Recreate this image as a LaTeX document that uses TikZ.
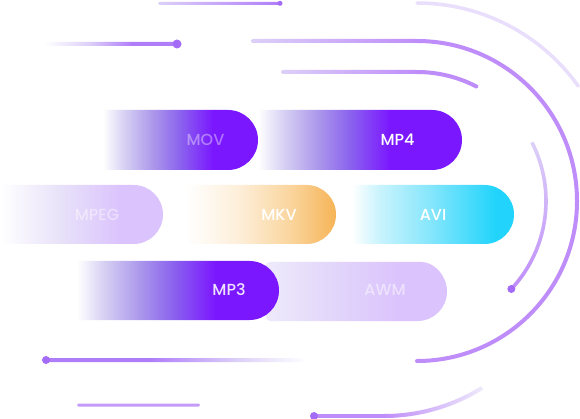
\documentclass[tikz,border=0pt]{standalone}
\usepackage{fontspec}
\setmainfont{Poppins}[UprightFont=* Medium]
\usepackage{xcolor}
\usepackage{tikz}

\definecolor{vio}{HTML}{7B17FF}
\definecolor{vioA}{HTML}{D6CFF3}
\definecolor{vioB}{HTML}{AC98EB}
\definecolor{vioC}{HTML}{8A62EE}
\definecolor{lilac}{HTML}{DBC3FD}
\definecolor{lilacpale}{HTML}{E8E2F9}
\definecolor{awmstart}{HTML}{EEEAFB}
\definecolor{awmmid}{HTML}{E2D6FA}
\definecolor{orng}{HTML}{F6B457}
\definecolor{orngA}{HTML}{FDEED8}
\definecolor{orngB}{HTML}{FAD59E}
\definecolor{cyan}{HTML}{22D4FB}
\definecolor{cyanA}{HTML}{C8F3FD}
\definecolor{cyanB}{HTML}{86E6FC}
\definecolor{lav}{HTML}{BF8DF9}
\definecolor{lavdeep}{HTML}{B07DF9}
\definecolor{lavpale}{HTML}{DCD0F8}
\definecolor{lavfaint}{HTML}{E9DEFC}
\definecolor{lavghost}{HTML}{EEEAFB}
\definecolor{lavline}{HTML}{C49BF8}
\definecolor{dotvio}{HTML}{A46CF6}

\pgfdeclarehorizontalshading{movfade}{100bp}{color(0bp)=(white); color(25bp)=(white); color(32bp)=(vioA); color(41bp)=(vioB); color(50bp)=(vioC); color(60.5bp)=(vio); color(100bp)=(vio)}
\pgfdeclarehorizontalshading{mpfourfade}{100bp}{color(0bp)=(white); color(25bp)=(white); color(31.5bp)=(vioA); color(39.6bp)=(vioB); color(47.6bp)=(vioC); color(57.4bp)=(vio); color(100bp)=(vio)}
\pgfdeclarehorizontalshading{mpthreefade}{100bp}{color(0bp)=(white); color(25bp)=(white); color(31.8bp)=(vioA); color(40.4bp)=(vioB); color(48.9bp)=(vioC); color(59.2bp)=(vio); color(100bp)=(vio)}
\pgfdeclarehorizontalshading{mpegfade}{100bp}{color(0bp)=(white); color(25bp)=(white); color(43.4bp)=(lilacpale); color(61.8bp)=(lilac); color(100bp)=(lilac)}
\pgfdeclarehorizontalshading{awmfade}{100bp}{color(0bp)=(awmstart); color(25bp)=(awmstart); color(43.5bp)=(awmmid); color(62bp)=(lilac); color(100bp)=(lilac)}
\pgfdeclarehorizontalshading{mkvfade}{100bp}{color(0bp)=(white); color(27bp)=(white); color(44.2bp)=(orngA); color(60.3bp)=(orngB); color(75bp)=(orng); color(100bp)=(orng)}
\pgfdeclarehorizontalshading{avifade}{100bp}{color(0bp)=(white); color(25.6bp)=(white); color(34.1bp)=(cyanA); color(49.4bp)=(cyanB); color(69.2bp)=(cyan); color(100bp)=(cyan)}
\pgfdeclarehorizontalshading{linein}{100bp}{color(0bp)=(white); color(25bp)=(white); color(42bp)=(lavpale); color(58bp)=(lavdeep); color(100bp)=(lavdeep)}
\pgfdeclarehorizontalshading{lineout}{100bp}{color(0bp)=(lavdeep); color(45bp)=(lavdeep); color(62bp)=(lavpale); color(75bp)=(white); color(100bp)=(white)}

\tikzset{
  pilltext/.style={font=\fontsize{16}{19}\selectfont, text=white, inner sep=0pt},
  streak/.style={line width=4, line cap=round}
}

\begin{document}
\begin{tikzpicture}[x=1pt,y=-1pt]
\useasboundingbox (0,0) rectangle (580,419);
\fill[white] (0,0) rectangle (580,419);
\coordinate (hub) at (417,201);
\coordinate (bend) at (384,231);

  \shade[left color=lavpale, right color=lavdeep, rounded corners=1.5] (158,1.8) rectangle (280,4.8);
  \fill[dotvio] (280,3.3) circle (2.5);
  \shade[shading=linein, rounded corners=2] (44,42) rectangle (177,46);
  \fill[dotvio] (177,44) circle (4.5);
  \draw[lavfaint, line width=3.5, line cap=round] (417,3) arc[start angle=-90,end angle=-35.5,radius=198];
  \shade[left color=lavpale, right color=lav, rounded corners=2] (251,39) rectangle (418,43);
  \draw[lav, streak] (417,41) arc[start angle=-90,end angle=90,radius=160];
  \shade[left color=lavpale, right color=lav, rounded corners=2] (281,70) rectangle (418,74);
  \draw[lav, streak] (417,72) arc[start angle=-90,end angle=-62.6,radius=129];
  \shade[top color=lavpale, bottom color=lav] ([shift={(hub)}]-27:130.8) arc[start angle=-27,end angle=43,radius=130.8] -- ([shift={(hub)}]43:127.2) arc[start angle=43,end angle=-27,radius=127.2] -- cycle;
  \fill[dotvio] ([shift={(hub)}]43:129) circle (4);

  \shade[shading=mpfourfade] (258,110) -- (432,110) arc[start angle=-90,end angle=90,radius=30] -- (258,170) -- cycle;
  \shade[shading=movfade] (103,110) -- (228,110) arc[start angle=-90,end angle=90,radius=30] -- (103,170) -- cycle;
  \node[pilltext, text opacity=0.4] (mov) at (205.5,139.5) {MOV};
  \node[pilltext] (mpfour) at (397.5,139.5) {MP4};

  \shade[shading=mpegfade] (0,185) -- (133.5,185) arc[start angle=-90,end angle=90,radius=29.5] -- (0,244) -- cycle;
  \shade[shading=mkvfade] (180,185) -- (306.5,185) arc[start angle=-90,end angle=90,radius=29.5] -- (180,244) -- cycle;
  \shade[shading=avifade] (350,185) -- (484.5,185) arc[start angle=-90,end angle=90,radius=29.5] -- (350,244) -- cycle;
  \node[pilltext, text opacity=0.45] (mpeg) at (97,214.5) {MPEG};
  \node[pilltext] (mkv) at (279,214.5) {MKV};
  \node[pilltext] (avi) at (433,214.5) {AVI};

  \shade[shading=awmfade, rounded corners=4] (266,291.5) |- (417.5,262) [sharp corners] arc[start angle=-90,end angle=90,radius=29.5] [rounded corners=4] -- (266,321) -- cycle;
  \shade[shading=mpthreefade] (77,261) -- (249.5,261) arc[start angle=-90,end angle=90,radius=29.5] -- (77,320) -- cycle;
  \node[pilltext, text opacity=0.88] (mpthree) at (229,290) {MP3};
  \node[pilltext, text opacity=0.5] (awm) at (385,290) {AWM};

  \shade[shading=lineout, rounded corners=2] (46,358) rectangle (306,362);
  \fill[dotvio] (46,360) circle (4);
  \fill[lavline, rounded corners=1.5] (77,403.5) rectangle (200,406.5);
  \draw[lav, line width=4] (314,416) -- (384,416);
  \shade[left color=lav, right color=lavghost] ([shift={(bend)}]90:187) arc[start angle=90,end angle=58,radius=187] -- ([shift={(bend)}]58:183) arc[start angle=58,end angle=90,radius=183] -- cycle;
  \fill[dotvio] (314,416) circle (4);
\end{tikzpicture}
\end{document}
